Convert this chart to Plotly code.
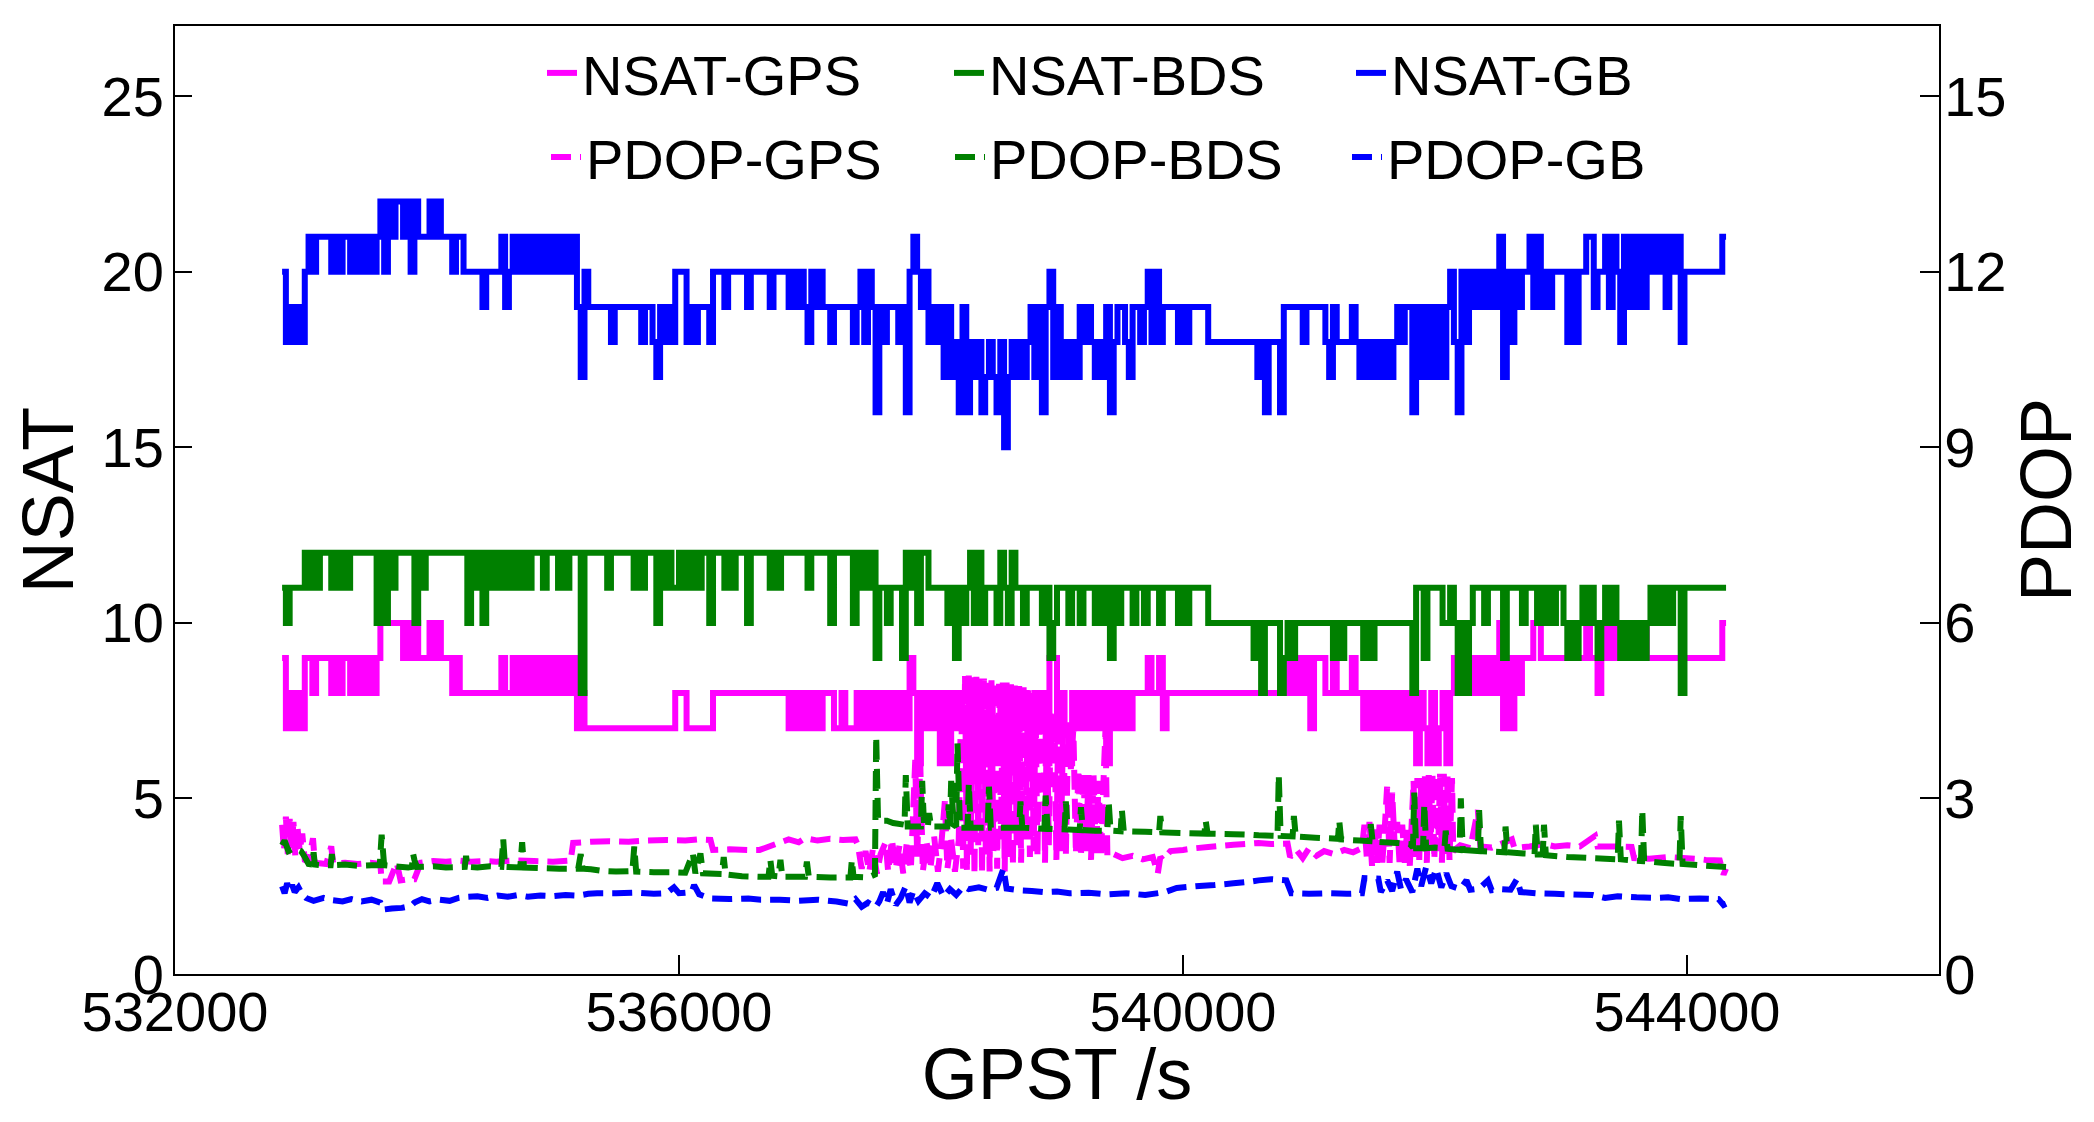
import plotly.graph_objects as go

# ---------------- data ----------------
# NSAT series: one character per 30 s epoch, value = base-36 digit (a=10, b=11, ... m=22)
EPOCH_T0 = 532850
EPOCH_DT = 30

NSAT_GPS_CODE = "".join([
    "97878799" "89999" "89899" "89898989" "aaaaaa" "9a9a9" "99a9a" "99989" "8",
    "8888888888" "98898989898989898989" "787" "77777777777777777777777" "888" "7777777" "888888888888",
    "88888888" "787878787888" "77877787878787" "878787986878786868787",
    "6878678768" "7868787687" "8699787687" "8787878687" "8787888898" "8978888888" "8888",
    "88888888888888888888" "98989897999" "8898888988" "78787878787878" "687686786",
    "8" "989898989898a797989" "99aa" "999999999999" "a9989" "a9a9a9a9a9a9" "9999999999999999999" "aa",
])
NSAT_BDS_CODE = "".join([
    "babbbb" "cbcbccc" "bcbcb" "ccccccc" "acacb" "ccccc" "acb" "cccccccccc",
    "c" "acbcacbcbcbcbcbcb" "ccc" "b" "ccc" "bcb" "ccc" "8" "cccccc" "b" "cccccc" "bcb" "ccc"
    "acbcbbcbcbcbcca" "ccc" "bcb" "ccc" "a" "cc",
    "ccc" "bcb" "ccccccc" "b" "ccccc" "a" "ccccc" "acbcbc9" "bbabbb9cbcaccbbbbbab9ba",
    "bcacabbbac" "bacbbabbbb" "ab9abbbabb" "abbbabab9b" "abbbabbabb" "babbbbabab" "bbbb",
    "aaaaaaaaaaaa" "9a8aaaa89a9" "aaaaaaaaaa" "9a9" "aaaaa" "9a9" "aaaaaaaaaa" "8bb9bbbbaa",
    "ba8a8abbba" "bbbb9bbbba" "bbbabababb" "a9a9ababa9" "ababa9a9a9" "a9ababababb" "8" "bbbbbbbbbbbb",
])
NSAT_GB_CODE = "".join([
    "kijijikl" "kllll" "klkll" "klklklk" "lmkmlmm" "lmkmlll" "mlmlllkll",
    "kkkkk" "j" "kkkk" "ljklk" "lklklklklklkl" "kljhk" "jjjjjj" "i" "jjjjjjj" "i" "jj" "ihjiji"
    "kkk" "iji" "jjj" "i" "kkk" "j" "kkkkk" "j" "kk",
    "kkk" "j" "kkkk" "jkjkjikjkj" "j" "i" "jjjjj" "i" "jkikjgj" "i" "jjj" "ijgklkjk" "ijijhjhigj",
    "gihighihgifhihihi" "jhjgjkhjhihih" "jijihihjgijjih" "jjijkiki" "jjjj" "iji" "jjjjj",
    "iiiiiiiiiiiii" "higiiig" "jjjjj" "i" "jjjjj" "ihj" "iiii" "ji" "hihihihihi" "jij" "jgjhjhjhjhj",
    "kigki" "kjkjkjkj" "lhkikjk" "kljljkjkkkkikikklljkk" "ljlkiljljljlklkljlkli" "kkkkkkkkkk" "ll",
])

PDOP_GPS_T = [
    532850, 532865, 532880, 532895, 532910, 532925, 532940, 532955, 532970, 532990, 533010, 533030,
    533060, 533095, 533110, 533200, 533240, 533255, 533350, 533450, 533550, 533630,
    533640, 533700, 533760, 533790, 533850, 533900,
    533950, 534050, 534150, 534250, 534350, 534450, 534550, 534700, 534850, 535000, 535140,
    535160, 535300, 535450, 535600, 535750, 535900, 536050, 536150, 536250,
    536270, 536400, 536550, 536640,
    536870, 536950, 537000, 537100, 537200, 537300, 537400,
    537420, 537450, 537480, 537510, 537540, 537570, 537600,
    537640, 537660, 537690, 537720, 537750, 537780, 537810, 537840, 537875, 537890, 537915, 537935,
    537965, 537995, 538025, 538055, 538085, 538110, 538130, 538160, 538190, 538220,
    538240, 538255, 538270, 538285, 538300, 538315, 538330, 538345, 538360, 538375, 538390, 538405,
    538420, 538435, 538450, 538465, 538480, 538495, 538510, 538525, 538540, 538555, 538570, 538585,
    538600, 538615,
    538635, 538650, 538665, 538680, 538700, 538715, 538735, 538750, 538770, 538785, 538800,
    538815, 538830, 538845, 538860, 538875, 538890, 538905, 538920, 538935, 538950, 538965, 538980,
    538995, 539010, 539030, 539050, 539070, 539090, 539110, 539130, 539150,
    539170, 539190, 539210, 539230, 539250, 539270, 539290, 539310, 539330, 539350, 539370, 539385,
    539400,
    539450, 539520, 539600, 539680, 539760, 539800, 539820, 539840,
    539900, 540000, 540100, 540200, 540300, 540400, 540540,
    540600, 540700, 540830,
    540850, 540900, 540950, 541000, 541060, 541120, 541200, 541280, 541350, 541420,
    541440, 541460, 541480, 541500, 541520, 541540, 541560, 541580, 541600, 541620, 541640, 541660,
    541680, 541700, 541720, 541740, 541760, 541780, 541800, 541830, 541845, 541860, 541875, 541890,
    541905, 541920, 541935, 541950, 541965, 541980, 541995, 542010, 542025, 542040, 542055, 542070,
    542085, 542100, 542115, 542135, 542145,
    542200, 542280, 542340, 542360, 542450, 542520, 542610, 542630, 542750, 542870, 542950, 543050,
    543150, 543270, 543290, 543400, 543560,
    543580, 543700, 543850, 544000, 544070, 544150, 544260, 544290, 544310,
]
PDOP_GPS = [
    2.55, 2.10, 2.69, 2.05, 2.65, 2.15, 2.60, 2.00, 2.55, 2.10, 2.40, 1.95,
    1.92, 2.32, 1.90, 1.88, 2.18, 1.89, 1.90, 1.88, 1.90, 1.88,
    1.58, 1.58, 1.90, 1.60, 1.62, 1.62,
    1.90, 1.93, 1.92, 1.94, 1.92, 1.93, 1.92, 1.94, 1.93, 1.92, 1.94,
    2.24, 2.26, 2.27, 2.26, 2.28, 2.29, 2.28, 2.30, 2.29,
    2.12, 2.13, 2.12, 2.12,
    2.30, 2.25, 2.32, 2.28, 2.31, 2.29, 2.30,
    2.20, 1.80, 2.10, 1.75, 2.15, 1.72, 2.05,
    2.25, 1.75, 2.30, 1.80, 2.20, 1.72, 2.28, 1.78, 3.66, 2.00, 3.60, 1.75,
    2.25, 1.80, 2.35, 1.75, 2.30, 2.95, 1.80, 2.30, 1.75, 2.28,
    4.80, 1.80, 5.10, 1.75, 5.10, 2.00, 5.08, 1.70, 5.08, 2.20, 5.05, 1.72,
    5.05, 2.00, 5.03, 1.75, 5.02, 2.10, 5.00, 1.80, 5.00, 2.30, 4.98, 1.75,
    4.98, 2.00,
    4.95, 1.85, 4.93, 2.20, 4.92, 1.90, 4.90, 2.30, 4.85, 2.00, 4.80,
    2.10, 4.60, 2.00, 4.55, 3.60, 4.55, 1.90, 4.50, 2.20, 4.45, 3.60, 4.45,
    1.95, 4.40, 2.10, 4.35, 2.00, 4.30, 3.50, 4.20, 2.05,
    3.50, 2.00, 3.45, 2.10, 3.40, 1.95, 3.40, 2.05, 3.30, 2.00, 3.35, 4.20,
    2.00,
    2.05, 1.98, 2.02, 1.96, 2.00, 1.72, 2.00, 1.95,
    2.10, 2.12, 2.15, 2.17, 2.19, 2.21, 2.23,
    2.24, 2.22, 2.23,
    2.00, 2.12, 1.98, 2.15, 2.02, 2.10, 2.05, 2.12, 2.08, 2.15,
    2.55, 1.95, 2.60, 1.85, 2.50, 1.90, 2.55, 1.85, 2.45, 3.20, 1.90, 3.10,
    2.20, 2.60, 1.85, 2.55, 1.90, 2.50, 1.85, 3.30, 2.00, 3.35, 1.95, 3.35,
    2.10, 3.38, 1.90, 3.40, 2.20, 3.40, 1.95, 3.40, 2.10, 3.42, 1.90, 3.42,
    2.05, 3.40, 1.95, 3.35, 2.10,
    2.20, 2.15, 2.80, 2.18, 2.16, 2.22, 2.30, 2.15, 2.18, 2.22, 2.18, 2.20,
    2.18, 2.36, 2.18, 2.18, 2.17,
    1.98, 1.97, 2.00, 1.98, 1.97, 1.95, 1.94, 1.70, 1.80,
]

PDOP_BDS_T = [
    532850, 532870, 532900, 532950, 533000, 533030, 533060, 533090, 533100, 533110, 533150, 533235,
    533245, 533255, 533350, 533450, 533560, 533625, 533640, 533660, 533750, 533850, 533880, 533890,
    533900, 533920, 534050, 534150, 534300, 534310, 534320, 534400, 534500, 534590, 534605, 534620,
    534740, 534755, 534770, 534900, 535050, 535200, 535220, 535235, 535300, 535400, 535500, 535630,
    535645, 535660, 535800, 535950, 536050, 536110, 536130, 536170, 536190, 536340, 536355, 536370,
    536500, 536640, 536710, 536725, 536740, 536790, 536805, 536820, 537000, 537015, 537030, 537200,
    537360, 537372, 537385, 537500, 537555, 537565, 537580, 537650, 537700, 537790, 537800, 537815,
    537920, 537930, 537945, 537975, 537985, 538000, 538130, 538140, 538150, 538160, 538180, 538200,
    538210, 538230, 538290, 538300, 538315, 538450, 538460, 538475, 538700, 538710, 538725, 538900,
    538910, 538925, 539060, 539070, 539085, 539180, 539190, 539205, 539300, 539400, 539410, 539425,
    539505, 539515, 539530, 539700, 539810, 539820, 539835, 540000, 540170, 540180, 540195, 540400,
    540540, 540600, 540750, 540760, 540775, 540870, 540880, 540895, 541050, 541230, 541240, 541255,
    541400, 541480, 541490, 541505, 541700, 541800, 541825, 541835, 541850, 541905, 541915, 541930,
    542000, 542075, 542085, 542100, 542195, 542205, 542220, 542340, 542350, 542365, 542550, 542560,
    542575, 542700, 542790, 542800, 542815, 542855, 542865, 542880, 543050, 543250, 543450, 543460,
    543475, 543635, 543645, 543660, 543800, 543940, 543950, 543965, 544150, 544310,
]
PDOP_BDS = [
    2.20, 2.28, 2.10, 2.15, 2.10, 2.00, 1.88, 1.87, 2.08, 1.87, 1.86, 1.86,
    2.05, 1.86, 1.87, 1.85, 1.86, 1.86, 2.38, 1.86, 1.84, 1.82, 1.83, 2.05,
    1.95, 1.83, 1.84, 1.82, 1.83, 2.02, 1.83, 1.82, 1.84, 1.83, 2.30, 1.83,
    1.82, 2.25, 1.82, 1.81, 1.80, 1.80, 2.05, 1.80, 1.79, 1.76, 1.75, 1.76,
    2.18, 1.75, 1.74, 1.74, 1.73, 2.06, 1.72, 2.06, 1.72, 1.71, 2.00, 1.70,
    1.67, 1.66, 1.66, 1.95, 1.68, 1.67, 1.95, 1.66, 1.66, 1.92, 1.66, 1.65,
    1.65, 1.95, 1.66, 1.65, 1.70, 4.06, 2.62, 2.62, 2.58, 2.55, 3.40, 2.52,
    2.52, 3.30, 2.52, 2.52, 2.75, 2.52, 2.52, 2.90, 2.52, 3.30, 2.55, 2.52,
    3.94, 2.50, 2.50, 3.25, 2.50, 2.50, 3.20, 2.50, 2.50, 2.95, 2.50, 2.48,
    3.05, 2.48, 2.47, 2.95, 2.47, 2.46, 2.85, 2.46, 2.45, 2.45, 2.95, 2.45,
    2.44, 2.80, 2.44, 2.43, 2.42, 2.70, 2.42, 2.41, 2.40, 2.62, 2.40, 2.39,
    2.38, 2.37, 2.36, 3.40, 2.36, 2.35, 2.70, 2.35, 2.33, 2.31, 2.62, 2.30,
    2.28, 2.27, 2.56, 2.26, 2.24, 2.22, 2.16, 3.10, 2.15, 2.15, 2.90, 2.15,
    2.16, 2.15, 2.45, 2.14, 2.12, 3.00, 2.12, 2.10, 2.80, 2.10, 2.08, 2.52,
    2.08, 2.06, 2.05, 2.55, 2.04, 2.04, 2.55, 2.03, 2.00, 1.98, 1.96, 2.62,
    1.96, 1.93, 2.80, 1.93, 1.90, 1.88, 2.70, 1.88, 1.85, 1.83,
]

PDOP_GB_T = [
    532850, 532870, 532890, 532910, 532930, 532950, 532980, 533010,
    533040, 533100, 533180, 533250, 533330, 533400, 533480, 533560, 533630,
    533650, 533720, 533800, 533870,
    533900, 533960, 534020, 534100, 534180, 534250,
    534320, 534400, 534480, 534560, 534640, 534720, 534800, 534900, 535000, 535100, 535200, 535280,
    535350, 535500, 535650, 535800, 535900, 535960, 536000, 536100, 536120, 536160,
    536250, 536400, 536550, 536650,
    536800, 536950, 537100, 537250,
    537350, 537400, 537450, 537500, 537560, 537590,
    537620, 537650, 537680, 537720, 537760, 537800, 537830, 537860, 537900, 537950, 538000, 538050,
    538100, 538150, 538200, 538260,
    538300, 538380, 538450, 538520, 538575, 538600,
    538700, 538800, 538900, 539000, 539100, 539250,
    539400, 539550, 539700, 539860,
    539950, 540100, 540250, 540400, 540540,
    540600, 540700, 540820,
    540860, 541000, 541150, 541300, 541420,
    541440, 541550,
    541570, 541620, 541660, 541700, 541730, 541770, 541820, 541860, 541890, 541930, 541970, 542010,
    542050, 542090, 542130,
    542200, 542250, 542280, 542350, 542420, 542450, 542530, 542600,
    542650, 542680, 542800, 542950, 543100, 543250, 543350, 543450, 543600, 543750, 543850, 543950,
    544100, 544250, 544290, 544310,
]
PDOP_GB = [
    1.50, 1.38, 1.55, 1.42, 1.52, 1.40, 1.48, 1.36,
    1.30, 1.25, 1.30, 1.26, 1.24, 1.28, 1.24, 1.27, 1.22,
    1.10, 1.12, 1.13, 1.16,
    1.22, 1.28, 1.24, 1.27, 1.25, 1.30,
    1.32, 1.33, 1.30, 1.34, 1.32, 1.35, 1.32, 1.34, 1.33, 1.35, 1.34, 1.37,
    1.38, 1.38, 1.39, 1.37, 1.38, 1.48, 1.38, 1.40, 1.52, 1.36,
    1.29, 1.28, 1.29, 1.27,
    1.27, 1.25, 1.27, 1.24,
    1.20, 1.28, 1.15, 1.22, 1.14, 1.24,
    1.40, 1.20, 1.45, 1.18, 1.30, 1.50, 1.22, 1.42, 1.25, 1.38, 1.30, 1.55,
    1.32, 1.45, 1.35, 1.50,
    1.45, 1.48, 1.44, 1.47, 1.80, 1.46,
    1.43, 1.42, 1.40, 1.41, 1.38, 1.39,
    1.36, 1.38, 1.35, 1.40,
    1.47, 1.50, 1.52, 1.55, 1.58,
    1.60, 1.62, 1.60,
    1.38, 1.37, 1.38, 1.37, 1.38,
    1.64, 1.63,
    1.40, 1.60, 1.42, 1.75, 1.45, 1.62, 1.40, 1.80, 1.50, 1.83, 1.55, 1.80,
    1.48, 1.72, 1.50,
    1.45, 1.60, 1.44, 1.46, 1.60, 1.43, 1.45, 1.44,
    1.62, 1.40, 1.38, 1.37, 1.36, 1.35, 1.30, 1.33, 1.31, 1.30, 1.31, 1.28,
    1.29, 1.28, 1.18, 1.20,
]

X_TICKS = [532000, 536000, 540000, 544000]
X_TICK_TEXT = ["532000", "536000", "540000", "544000"]
Y_TICKS = [0, 5, 10, 15, 20, 25]
Y2_TICKS = [0, 3, 6, 9, 12, 15]

NAMES = ["NSAT-GPS", "NSAT-BDS", "NSAT-GB", "PDOP-GPS", "PDOP-BDS", "PDOP-GB"]
COLORS = ["#FF00FF", "#008000", "#0000FF"]

# ---------------- figure ----------------
def decode(code):
    return [int(c, 36) for c in code]

def epochs(code):
    return [EPOCH_T0 + EPOCH_DT * i for i in range(len(code))]

FONT = "Liberation Sans, Arial, Helvetica, sans-serif"
LW = 6
DASH = "20px,9px"

fig = go.Figure()
nsat_codes = [NSAT_GPS_CODE, NSAT_BDS_CODE, NSAT_GB_CODE]
legend_keys = ["legend", "legend2", "legend3", "legend4", "legend5", "legend6"]
for k, code in enumerate(nsat_codes):
    fig.add_trace(go.Scatter(
        x=epochs(code), y=decode(code), mode="lines", name=NAMES[k],
        line=dict(color=COLORS[k], width=LW, shape="hv", simplify=False),
        legend=legend_keys[k], showlegend=True,
        yaxis="y",
    ))

pdop = [(PDOP_GPS_T, PDOP_GPS), (PDOP_BDS_T, PDOP_BDS), (PDOP_GB_T, PDOP_GB)]
for k, (tt, vv) in enumerate(pdop):
    fig.add_trace(go.Scatter(
        x=tt, y=vv, mode="lines", name=NAMES[3 + k],
        line=dict(color=COLORS[k], width=LW, dash=DASH, simplify=False),
        legend=legend_keys[3 + k], showlegend=True,
        yaxis="y2",
    ))

# page body has an 8 px margin: figure coordinates = screen coordinates - 8
OFF = 8
SCREEN_W, SCREEN_H = 2094, 1122
L, R, T, B = 175, 1939, 26, 974          # plot area in screen pixels
W, H = SCREEN_W - 2 * OFF, SCREEN_H - 2 * OFF

def px(xp):
    return (xp - L) / (R - L)

def py(yp):
    return (B - yp) / (B - T)

legend_text_x = [584, 991, 1393, 588, 992, 1389]
legend_text_y = [73, 73, 73, 157, 157, 157]
legends = {}
for k in range(6):
    legends[legend_keys[k]] = dict(
        x=px(legend_text_x[k] - 42), y=py(legend_text_y[k]),
        xanchor="left", yanchor="middle",
        font=dict(family=FONT, size=56, color="black"),
        bgcolor="rgba(0,0,0,0)", borderwidth=0,
    )

axis_common = dict(
    showgrid=False, zeroline=False, showline=True, linecolor="black", linewidth=2,
    ticks="inside", tickcolor="black", tickwidth=2,
    tickfont=dict(family=FONT, size=56, color="black"),
)

fig.update_layout(
    width=W, height=H,
    margin=dict(l=L - OFF, r=W - (R - OFF), t=T - OFF, b=H - (B - OFF), autoexpand=False),
    paper_bgcolor="white", plot_bgcolor="white",
    font=dict(family=FONT, color="black"),
    showlegend=True,
    xaxis=dict(
        range=[532000, 546000], tickvals=X_TICKS, ticktext=X_TICK_TEXT,
        ticklen=19, mirror=True, ticklabelstandoff=-12,
        title=dict(text="GPST /s", font=dict(family=FONT, size=72, color="black"), standoff=30),
        **axis_common,
    ),
    yaxis=dict(
        range=[0, 27], tickvals=Y_TICKS, ticklen=17, ticklabelstandoff=-2,
        title=dict(text="NSAT", font=dict(family=FONT, size=72, color="black"), standoff=16),
        **axis_common,
    ),
    yaxis2=dict(
        range=[0, 16.2], tickvals=Y2_TICKS, ticklen=19, overlaying="y", side="right",
        ticklabelstandoff=-8,
        title=dict(text="PDOP", font=dict(family=FONT, size=72, color="black"), standoff=24),
        **axis_common,
    ),
    **legends,
)

fig.write_html("out.html")
